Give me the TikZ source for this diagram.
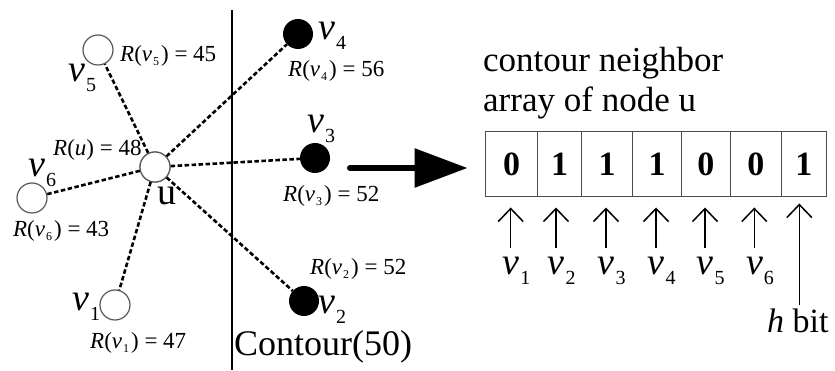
\documentclass[tikz,border=0pt]{standalone}
\usepackage{fontspec}
\setmainfont{Liberation Serif}
\usetikzlibrary{arrows.meta}
\newcommand{\bigv}[1]{\textit{v}\kern1pt\raisebox{-10pt}{\fontsize{20}{20}\selectfont #1}}
\newcommand{\Rv}[2]{\textit{R}(\textit{v}\kern1pt\raisebox{-4pt}{\fontsize{12}{12}\selectfont #1}\kern2pt) = #2}
\begin{document}
\begin{tikzpicture}[x=1pt,y=-1pt,
  open/.style={circle,draw=black!65,line width=1.2pt,fill=white,minimum size=30pt,inner sep=0pt},
  full/.style={circle,fill=black,minimum size=30pt,inner sep=0pt},
  rlab/.style={anchor=base west,inner sep=0pt,font=\fontsize{23}{23}\selectfont},
  vlab/.style={anchor=base west,inner sep=0pt,font=\fontsize{38}{38}\selectfont},
  txt/.style={anchor=base west,inner sep=0pt,font=\fontsize{35}{35}\selectfont},
  edge/.style={line width=2.6pt,dash pattern=on 4.5pt off 2.5pt},
  cell/.style={draw=black!70,line width=1pt,minimum height=65pt,inner sep=0pt,font=\fontsize{34}{34}\selectfont\bfseries},
  uparr/.style={line width=1.5pt,-{Straight Barb[length=13pt,width=25pt]}},
]
\useasboundingbox (0,0) rectangle (835,371);

% contour line
\coordinate (ct) at (232,10);
\coordinate (cb) at (232,370);
\draw[line width=2.6pt] (ct) -- (cb);

% nodes
\node[open] (u) at (155,167) {};
\node[open] (v5) at (98,50) {};
\node[open] (v6) at (32,198) {};
\node[open] (v1) at (115,305) {};
\node[full] (v4) at (298,34) {};
\node[full] (v3) at (315,158) {};
\node[full] (v2) at (304,301) {};

% edges
\draw[edge] (u) -- (v5);
\draw[edge] (u) -- (v6);
\draw[edge] (u) -- (v1);
\draw[edge] (u) -- (v4);
\draw[edge] (u) -- (v3);
\draw[edge] (u) -- (v2);
\node[open] at (u) {};

% labels
\node[vlab] (lu) at (157,205) {u};
\node[vlab] (lv5) at (68,82) {\bigv{5}};
\node[vlab] (lv6) at (28,177) {\bigv{6}};
\node[vlab] (lv4) at (318,40) {\bigv{4}};
\node[vlab] (lv3) at (307,133) {\bigv{3}};
\node[vlab] (lv2) at (318,313) {\bigv{2}};
\node[vlab] (lv1) at (72,310) {\bigv{1}};

\node[rlab] (ru) at (53,156) {\textit{R}(\textit{u}) = 48};
\node[rlab] (rv5) at (120,62) {\Rv{5}{45}};
\node[rlab] (rv4) at (288,77) {\Rv{4}{56}};
\node[rlab] (rv3) at (283,202) {\Rv{3}{52}};
\node[rlab] (rv6) at (13,237) {\Rv{6}{43}};
\node[rlab] (rv2) at (310,275) {\Rv{2}{52}};
\node[rlab] (rv1) at (90,348) {\Rv{1}{47}};

\node[txt,font=\fontsize{36}{36}\selectfont] (contour) at (234,355) {Contour(50)};

% title
\node[txt] (t1) at (483,72) {contour neighbor};
\node[txt] (t2) at (483,112) {array of node u};

% array
\node[cell,minimum width=51.6pt] (c1) at (511.5,164.5) {0};
\node[cell,minimum width=44.4pt] (c2) at (559.5,164.5) {1};
\node[cell,minimum width=50.6pt] (c3) at (607,164.5) {1};
\node[cell,minimum width=49.4pt] (c4) at (657,164.5) {1};
\node[cell,minimum width=48.3pt] (c5) at (705.85,164.5) {0};
\node[cell,minimum width=51.7pt] (c6) at (755.85,164.5) {0};
\node[cell,minimum width=44.3pt] (c7) at (803.85,164.5) {1};

% big arrow
\coordinate (as) at (350,168);
\draw[line width=6pt,line cap=round,-{Triangle[length=53pt,width=38pt]}]
  (as) -- ([xshift=-17.7pt]c1.west |- as);

% index arrows
\foreach \i/\x in {1/510.7,2/556,3/606,4/656,5/705,6/754.3}{
  \coordinate (a\i) at (\x,248);
  \draw[uparr] (a\i) -- ([yshift=-10pt]a\i |- c\i.south);
  \node[vlab] (b\i) at (\x-8.5,275) {\bigv{\i}};
}
\coordinate (a7) at (799.3,305);
\draw[uparr] (a7) -- ([yshift=-6pt]a7 |- c7.south);
\node[txt,font=\fontsize{34}{34}\selectfont] (hb) at (767,332) {\textit{h} bit};
\end{tikzpicture}
\end{document}
